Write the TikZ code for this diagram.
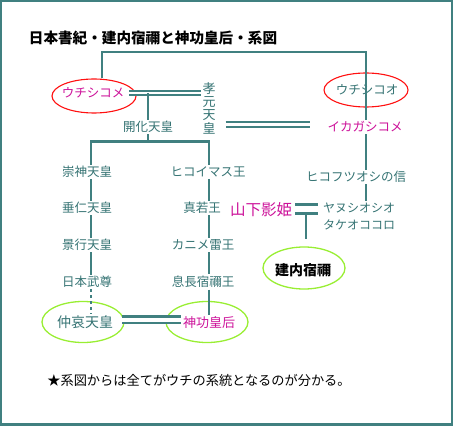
\documentclass[tikz,border=0pt]{standalone}
\usepackage{fontspec}
\setmainfont{Noto Sans CJK JP}
\usetikzlibrary{shapes.geometric}
\definecolor{lineteal}{HTML}{408080}
\definecolor{nameteal}{HTML}{357373}
\definecolor{hime}{HTML}{CC1199}
\definecolor{ringred}{HTML}{FF1010}
\definecolor{ringgreen}{HTML}{99EE33}
\tikzset{
  person/.style={text=nameteal, inner sep=1.5pt, font=\fontsize{12.5}{14}\selectfont},
  redring/.style={ellipse, draw=ringred, line width=1.1pt, minimum width=84pt, minimum height=34pt},
  greenring/.style={ellipse, draw=ringgreen, line width=1.3pt, minimum width=82pt, minimum height=41pt},
  kin/.style={draw=lineteal, line width=2.2pt},
  dbl/.style={draw=lineteal, double=white, line width=2.2pt, double distance=2.4pt},
}

\begin{document}
\begin{tikzpicture}[x=1pt, y=-1pt]
  \useasboundingbox (0,0) rectangle (454,427);
  \draw[lineteal, line width=2.3pt] (1.15,1.15) rectangle (452.2,424.6);
  \node[font=\fontsize{14.6}{16}\selectfont\bfseries] (title) at (153,38) {日本書紀・建内宿禰と神功皇后・系図};

  % rings
  \node[redring] (uchishikomering) at (94,96) {};
  \node[redring] (uchishikooring) at (366,90) {};
  \node[greenring] (chuairing) at (83,322) {};
  \node[greenring] (jinguring) at (207,322) {};
  \node[greenring, minimum height=42pt] (takeuchiring) at (304,268) {};

  % names
  \node[person, text=hime] (uchishikome) at (93,93) {ウチシコメ};
  \node[person] (uchishikoo) at (367,90) {ウチシコオ};
  \node[person, align=center, font=\fontsize{13}{13.3}\selectfont] (kogen) at (209,108) {孝\\元\\天\\皇};
  \node[person, text=hime] (ikagashikome) at (365,127) {イカガシコメ};
  \node[person] (kaika) at (148,127) {開化天皇};
  \node[person] (hikofutsu) at (356,177) {ヒコフツオシの信};
  \foreach \n/\x/\y/\t in {sujin/87/172/崇神天皇, suinin/87/208/垂仁天皇, keiko/87/245/景行天皇, takeru/87/282/日本武尊,
      hikoimasu/208/172/ヒコイマス王, mawaka/202/208/真若王, kanime/203/245/カニメ雷王, okinaga/203/282/息長宿禰王}
    \node[person] (\n) at (\x,\y) {\t};
  \node[person, font=\fontsize{14}{16}\selectfont] (chuai) at (85,322) {仲哀天皇};
  \node[person, text=hime, font=\fontsize{13}{16}\selectfont] (jingu) at (209,323) {神功皇后};
  \node[person, text=hime, font=\fontsize{15.5}{17}\selectfont] (yamashita) at (261,210) {山下影姫};
  \node[person, align=center, font=\fontsize{12}{17}\selectfont] (yanushi) at (359,216.5) {ヤヌシオシオ\\タケオココロ};
  \node[font=\fontsize{14}{16}\selectfont\bfseries] (takeuchi) at (303,270) {建内宿禰};
  \node[font=\fontsize{13.2}{15}\selectfont] (note) at (199,380) {★系図からは全てがウチの系統となるのが分かる。};

  % lines
  \coordinate (ltop) at (102,52);
  \coordinate (rtop) at (366,52);
  \coordinate (kaikabar) at (148,141.5);
  \coordinate (leftcol) at (91,0);
  \coordinate (rightcol) at (209,0);
  \coordinate (stem) at (306,0);
  \draw[kin] (uchishikomering.north -| ltop) -- (ltop) -- (rtop) -- (ikagashikome.north -| rtop);
  \draw[kin] (ikagashikome.south -| rtop) -- (hikofutsu.north -| rtop);
  \draw[kin] (hikofutsu.south -| rtop) -- (yanushi.north -| rtop);
  \draw[dbl, line width=2pt, double distance=1.2pt] ([xshift=3.5pt]uchishikome.east) -- (uchishikome.east -| kogen.west);
  \draw[kin] (kaika.north) -- (kaika.north |- uchishikome.east);
  \draw[kin] (kaika.south) -- (kaikabar);
  \draw[kin] (sujin.north -| leftcol) |- (kaikabar) -| (hikoimasu.north -| rightcol);
  \draw[dbl, line width=2.3pt] ([xshift=8.5pt,yshift=2.3pt]kogen.east |- ikagashikome.west) -- ([xshift=-15.5pt,yshift=2.3pt]ikagashikome.west);
  \foreach \a/\b in {sujin/suinin, suinin/keiko, keiko/takeru}
    \draw[kin] (\a.south -| leftcol) -- (\b.north -| leftcol);
  \draw[kin, dash pattern=on 3pt off 3pt] (takeru.south -| leftcol) -- (chuai.north -| leftcol);
  \foreach \a/\b in {hikoimasu/mawaka, mawaka/kanime, kanime/okinaga, okinaga/jingu}
    \draw[kin] (\a.south -| rightcol) -- (\b.north -| rightcol);
  \draw[dbl, line width=2.6pt, double distance=4pt] ([xshift=7pt,yshift=2.5pt]chuai.east) -- ([yshift=2.5pt]chuai.east -| jingu.west);
  \draw[dbl, line width=2.6pt, double distance=6pt] ([xshift=1.5pt,yshift=1pt]yamashita.east) -- ([xshift=-3.5pt,yshift=1pt]yamashita.east -| yanushi.west);
  \draw[kin, shorten >=7pt] ([yshift=-3pt]yamashita.east -| stem) -- (takeuchiring.north -| stem);
\end{tikzpicture}
\end{document}
